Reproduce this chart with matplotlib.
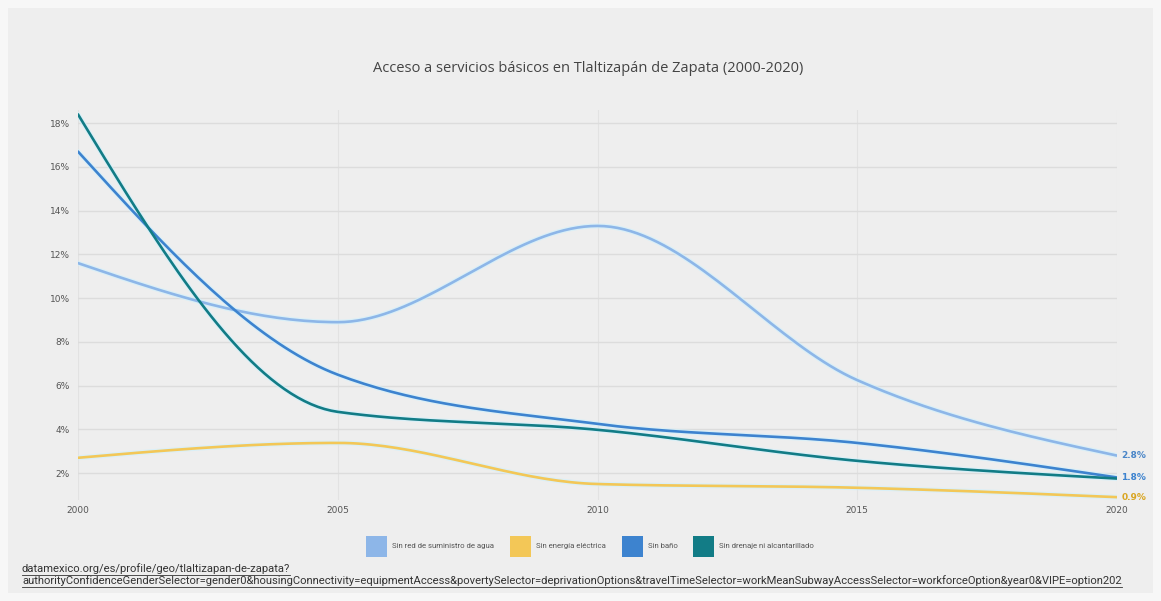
import numpy as np
import matplotlib
matplotlib.use("Agg")
import matplotlib.pyplot as plt
from matplotlib.lines import Line2D
from matplotlib.patches import Rectangle

# ---- data ----
years = [2000, 2005, 2010, 2015, 2020]
series_names = ["Sin red de suministro de agua", "Sin energía eléctrica", "Sin baño", "Sin drenaje ni alcantarillado"]
agua = [11.6, 8.9, 13.3, 6.25, 2.8]
electricidad = [2.7, 3.38, 1.5, 1.33, 0.9]
bano = [16.7, 6.5, 4.25, 3.38, 1.8]
drenaje = [18.4, 4.8, 3.98, 2.56, 1.75]
y_ticks = [2, 4, 6, 8, 10, 12, 14, 16, 18]
title = "Acceso a servicios básicos en Tlaltizapán de Zapata (2000-2020)"
source_lines = [
    "datamexico.org/es/profile/geo/tlaltizapan-de-zapata?",
    "authorityConfidenceGenderSelector=gender0&housingConnectivity=equipmentAccess&povertySelector=deprivationOptions&travelTimeSelector=workMeanSubwayAccessSelector=workforceOption&year0&VIPE=option202",
]

colors = ["#8db6e8", "#f3c757", "#3d83cf", "#127c86"]
label_colors = ["#4a86c8", "#d9a520", "#3d83cf", "#127c86"]


def monotone_x(xs, ys, n=40):
    xs = np.asarray(xs, float); ys = np.asarray(ys, float)
    m = len(xs)
    h = np.diff(xs); s = np.diff(ys) / h
    t = np.zeros(m)
    for i in range(1, m - 1):
        p = (s[i - 1] * h[i] + s[i] * h[i - 1]) / (h[i - 1] + h[i])
        t[i] = (np.sign(s[i - 1]) + np.sign(s[i])) * min(abs(s[i - 1]), abs(s[i]), 0.5 * abs(p))
    t[0] = (3 * s[0] - t[1]) / 2
    t[-1] = (3 * s[-1] - t[-2]) / 2
    ox, oy = [], []
    for i in range(m - 1):
        u = np.linspace(0, 1, n)
        hh = h[i]
        h00 = 2 * u**3 - 3 * u**2 + 1
        h10 = u**3 - 2 * u**2 + u
        h01 = -2 * u**3 + 3 * u**2
        h11 = u**3 - u**2
        yy = h00 * ys[i] + h10 * hh * t[i] + h01 * ys[i + 1] + h11 * hh * t[i + 1]
        xx = xs[i] + u * hh
        ox.extend(xx); oy.extend(yy)
    return np.array(ox), np.array(oy)


W, H = 1161, 601
fig = plt.figure(figsize=(W / 100, H / 100), dpi=100)
fig.patch.set_facecolor("#f7f7f7")
bg = Rectangle((8 / W, 8 / H), 1 - 16 / W, 1 - 16 / H, transform=fig.transFigure,
               facecolor="#eeeeee", edgecolor="none", zorder=-10)
fig.add_artist(bg)

left, right = 78 / W, 1117 / W
bottom, top = (H - 500) / H, (H - 110) / H
ax = fig.add_axes([left, bottom, right - left, top - bottom])
ax.set_zorder(5)
ax.set_facecolor("none")
ax.patch.set_alpha(0)
ax.set_xlim(2000, 2020)
ax.set_ylim(0.77, 18.6)
for sp in ax.spines.values():
    sp.set_visible(False)

ax.set_yticks(y_ticks)
ax.set_yticklabels([f"{v}%" for v in y_ticks])
ax.set_xticks(years)
ax.set_xticklabels([str(y) for y in years])
ax.tick_params(axis="both", length=0, labelsize=6.5, colors="#555555", pad=6)
ax.tick_params(axis="x", pad=4)
ax.grid(axis="y", color="#dcdcdc", linewidth=1)
ax.grid(axis="x", color="#e2e2e2", linewidth=0.8)
ax.set_axisbelow(True)

all_series = [agua, electricidad, bano, drenaje]
for vals, c in zip(all_series, colors):
    xx, yy = monotone_x(years, vals)
    ax.plot(xx, yy, color="#d2f0fb", linewidth=3.6, solid_capstyle="round", zorder=2, alpha=0.7)
    ax.plot(xx, yy, color=c, linewidth=1.9, solid_capstyle="round", zorder=3)

# end labels
for vals, c in zip(all_series, label_colors):
    if vals is drenaje:
        continue
    ax.annotate(f"{vals[-1]:.1f}%", xy=(years[-1], vals[-1]), xytext=(3, 0), textcoords="offset points",
                ha="left", va="center", fontsize=6.5, fontweight="bold", color=c, annotation_clip=False)

fig.text(588 / W, 1 - 68 / H, title, ha="center", va="center", fontsize=10.5, color="#444444",
         family="Open Sans")

# legend
sq = 21
legend_x = [366, 510, 622, 693]
ly = 546
for x0, name, c in zip(legend_x, series_names, colors):
    fig.add_artist(Rectangle((x0 / W, (H - ly - sq / 2) / H), sq / W, sq / H, transform=fig.transFigure,
                             facecolor=c, edgecolor="none"))
    fig.text((x0 + sq + 5) / W, 1 - ly / H, name, ha="left", va="center", fontsize=5.6, color="#555555",
             family="Roboto")

# source lines (underlined), same font size for both lines
fig.canvas.draw()
renderer = fig.canvas.get_renderer()
probe = fig.text(0, 0, source_lines[1], fontsize=6.3, family="Roboto")
pw = probe.get_window_extent(renderer).width
probe.remove()
src_size = 6.3 * (1125 - 22) / pw
for line, yy in zip(source_lines, [569, 581]):
    t = fig.text(22 / W, 1 - yy / H, line, ha="left", va="center", fontsize=src_size, color="#333333",
                 family="Roboto")
    bb = t.get_window_extent(renderer)
    yb = (bb.y0 - 0.5) / H
    fig.add_artist(Line2D([bb.x0 / W, bb.x1 / W], [yb, yb], transform=fig.transFigure,
                          color="#333333", linewidth=0.6))

fig.savefig("out.png", dpi=100, facecolor=fig.get_facecolor())
